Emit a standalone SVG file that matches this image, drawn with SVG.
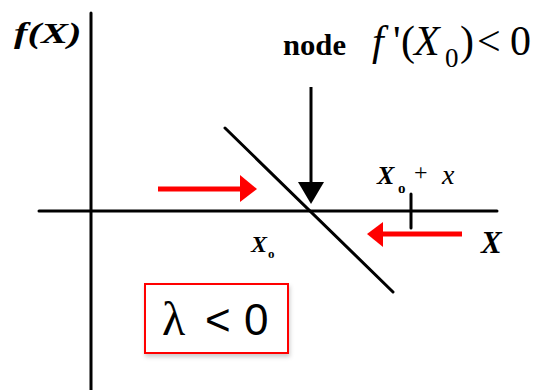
<svg xmlns="http://www.w3.org/2000/svg" width="537" height="390" viewBox="0 0 537 390">
<defs>
<style>
.ax{stroke:#000;stroke-width:3;fill:none;stroke-linecap:round}
.red{stroke:#ff0000;stroke-width:5;fill:none}
.redh{fill:#ff0000}
.ser{font-family:"Liberation Serif","Times New Roman",serif;fill:#000}
.it{font-style:italic}
.bd{font-weight:bold}
.eq{font-size:42px}
</style>
<filter id="sh" x="-10%" y="-10%" width="130%" height="130%">
<feDropShadow dx="1" dy="3" stdDeviation="2" flood-color="#000" flood-opacity="0.2"/>
</filter>
</defs>
<rect width="537" height="390" fill="#fff"/>
<g id="axes">
<line class="ax" x1="91" y1="13" x2="91" y2="390"/>
<line class="ax" x1="39" y1="211" x2="497" y2="211"/>
<line class="ax" x1="411" y1="194" x2="411" y2="228"/>
<line class="ax" x1="225" y1="128" x2="393" y2="292"/>
</g>
<g id="labels">
<g transform="translate(14,43) scale(1.35,1)">
<text class="ser it bd" x="0" y="0" font-size="30">f(X)</text>
</g>
<text class="ser bd" x="283" y="55" font-size="30" textLength="63" lengthAdjust="spacingAndGlyphs">node</text>
<text class="ser it eq" x="372" y="55">f</text>
<text class="ser eq" x="393" y="55">'</text>
<text class="ser eq" x="401" y="55">(</text>
<text class="ser it eq" x="414" y="55">X</text>
<text class="ser" x="445" y="67" font-size="27">0</text>
<text class="ser eq" x="460" y="55">)</text>
<text class="ser eq" x="477" y="55">&lt;</text>
<text class="ser eq" x="510" y="55">0</text>
<text class="ser it bd" x="377" y="184" font-size="26">X</text>
<text class="ser bd" x="398" y="193" font-size="15">o</text>
<text class="ser" x="414" y="180" font-size="24">+</text>
<text class="ser it" x="442" y="184" font-size="28">x</text>
<text class="ser it bd" x="251" y="252" font-size="24">X</text>
<text class="ser bd" x="268" y="258" font-size="13">o</text>
<text class="ser it bd" x="481" y="253" font-size="31">X</text>
</g>
<g id="node-arrow">
<line x1="311" y1="87" x2="311" y2="185" stroke="#000" stroke-width="3"/>
<polygon points="298,182 324,182 311,204" fill="#000"/>
</g>
<g id="connectors">
<line class="red" x1="158" y1="189" x2="242" y2="189"/>
<polygon class="redh" points="240,175 257,189 240,202"/>
<line class="red" x1="462" y1="234" x2="380" y2="234"/>
<polygon class="redh" points="383,222 367,234 383,247"/>
</g>
<g id="lambda-box">
<rect x="145" y="284" width="143" height="69" fill="#fff" stroke="#ff0000" stroke-width="2" filter="url(#sh)"/>
<text class="ser" x="162" y="335" font-size="48">λ</text>
<text x="205" y="335" font-family="Liberation Sans,sans-serif" font-size="44">&lt;</text>
<text x="244" y="335" font-family="Liberation Sans,sans-serif" font-size="44">0</text>
</g>
</svg>
